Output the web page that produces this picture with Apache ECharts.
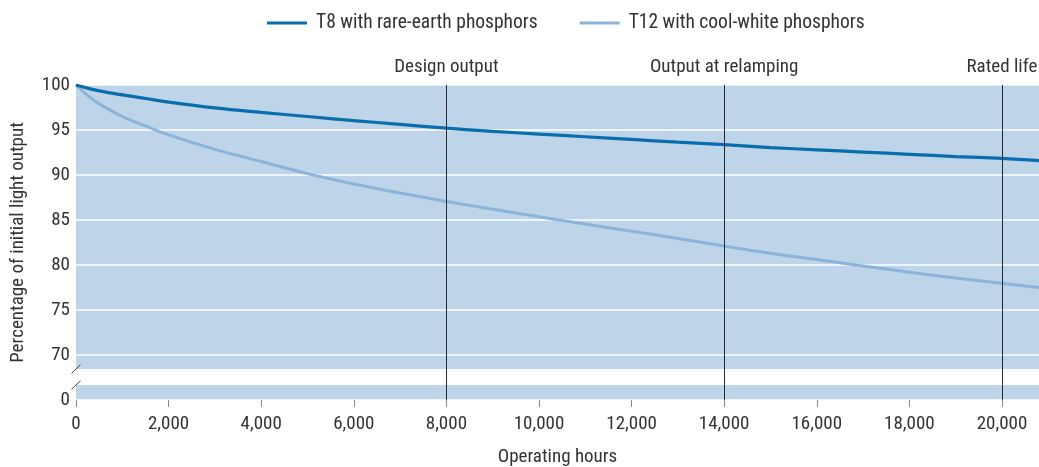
<!DOCTYPE html>
<html><head><meta charset="utf-8">
<script src="https://cdn.jsdelivr.net/npm/echarts@6/dist/echarts.min.js"></script>
<style>html,body{margin:0;padding:0;background:#fff}#c{width:1039px;height:467px}</style>
</head><body><div id="c"></div>
<script>
const hours = [0, 250, 500, 1000, 1500, 2000, 3000, 4000, 5000, 6000, 7000, 8000, 9000, 10000, 11000, 12000, 13000, 14000, 15000, 16000, 17000, 18000, 19000, 20000, 20800];
const t8 = [100, 99.65, 99.35, 98.9, 98.5, 98.1, 97.45, 96.95, 96.5, 96.05, 95.62, 95.2, 94.85, 94.55, 94.25, 93.95, 93.65, 93.38, 93.05, 92.8, 92.55, 92.3, 92.05, 91.84, 91.6];
const t12 = [100, 98.85, 97.9, 96.5, 95.45, 94.45, 92.85, 91.5, 90.15, 89.0, 88.0, 87.06, 86.2, 85.35, 84.55, 83.75, 82.95, 82.1, 81.3, 80.6, 79.9, 79.2, 78.55, 77.97, 77.5];
const seriesNames = ['T8 with rare-earth phosphors', 'T12 with cool-white phosphors'];
const markers = [[8000, 'Design output'], [14000, 'Output at relamping'], [20000, 'Rated life']];
const yBreak = {lowMax: 66.67, highMin: 68.44};  // axis break: bottom band stands for 0
const yMin = 65, yMax = 100, xMax = 20800;

const FONT = "'Liberation Sans Narrow', 'Roboto Condensed', 'Arial Narrow', sans-serif";
const TXT = '#333';
const chart = echarts.init(document.getElementById('c'), null, {renderer: 'canvas'});
const zip = (xs, ys) => xs.map((x, i) => [x, ys[i]]);

chart.setOption({
  animation: false,
  textStyle: {fontFamily: FONT},
  legend: {
    top: 8, left: 262, itemGap: 42, itemWidth: 40, itemHeight: 3,
    icon: 'rect',
    textStyle: {fontFamily: FONT, fontSize: 19.5, color: TXT, padding: [0, 0, 0, 4]},
    data: seriesNames
  },
  grid: {left: 76, right: 0, top: 85, bottom: 67, show: true, backgroundColor: '#bed4e8', borderWidth: 0,
         outerBoundsMode: 'none', containLabel: false},
  xAxis: {
    type: 'value', min: 0, max: xMax, interval: 2000,
    name: 'Operating hours', nameLocation: 'middle', nameGap: 48,
    nameTextStyle: {fontFamily: FONT, fontSize: 19, color: TXT},
    axisLine: {show: false},
    axisTick: {show: true, length: 7, lineStyle: {color: '#888', width: 1}},
    splitLine: {show: false},
    axisLabel: {
      showMaxLabel: false, fontFamily: FONT, fontSize: 19, color: TXT, margin: 15,
      formatter: v => v.toLocaleString('en-US')
    }
  },
  yAxis: {
    type: 'value', min: yMin, max: yMax, interval: 5,
    name: 'Percentage of initial light output', nameLocation: 'middle', nameGap: 48,
    nameTextStyle: {fontFamily: FONT, fontSize: 19, color: TXT},
    axisLine: {show: false}, axisTick: {show: false},
    splitLine: {show: true, lineStyle: {color: '#ffffff', width: 1.5}},
    axisLabel: {
      fontFamily: FONT, fontSize: 19, color: TXT, margin: 6,
      formatter: v => (v === yMin ? '0' : String(v))
    }
  },
  series: [
    {
      name: 'gap', type: 'line', data: [], z: 1, silent: true,
      markArea: {
        silent: true, itemStyle: {color: '#ffffff', opacity: 1},
        data: [[{yAxis: yBreak.lowMax}, {yAxis: yBreak.highMin}]]
      }
    },
    {
      name: seriesNames[1], type: 'line', smooth: 0.4, showSymbol: false, z: 3,
      data: zip(hours, t12), color: '#8cb3d9',
      lineStyle: {color: '#8cb3d9', width: 3}
    },
    {
      name: seriesNames[0], type: 'line', smooth: 0.4, showSymbol: false, z: 4,
      data: zip(hours, t8), color: '#0a6dad',
      lineStyle: {color: '#0a6dad', width: 3.2}
    },
    {
      name: 'markers', type: 'line', data: [], z: 5, silent: true,
      markLine: {
        silent: true, symbol: ['none', 'none'],
        lineStyle: {color: '#2a2a2a', width: 1, type: 'solid'},
        label: {show: true, position: 'end', distance: 8, fontFamily: FONT, fontSize: 19, color: TXT,
                formatter: p => p.name},
        data: markers.map(m => ({xAxis: m[0], name: m[1]}))
      }
    }
  ]
});

// break marks on the y axis
function drawBreaks() {
  const p1 = chart.convertToPixel({gridIndex: 0}, [0, yBreak.highMin]);
  const p2 = chart.convertToPixel({gridIndex: 0}, [0, yBreak.lowMax]);
  const mk = (p) => ({
    type: 'line', z: 100,
    shape: {x1: p[0] - 4.5, y1: p[1] + 4.3, x2: p[0] + 4.5, y2: p[1] - 4.3},
    style: {stroke: '#444', lineWidth: 1}
  });
  chart.setOption({graphic: [mk(p1), mk(p2)]});
}
drawBreaks();
</script></body></html>
